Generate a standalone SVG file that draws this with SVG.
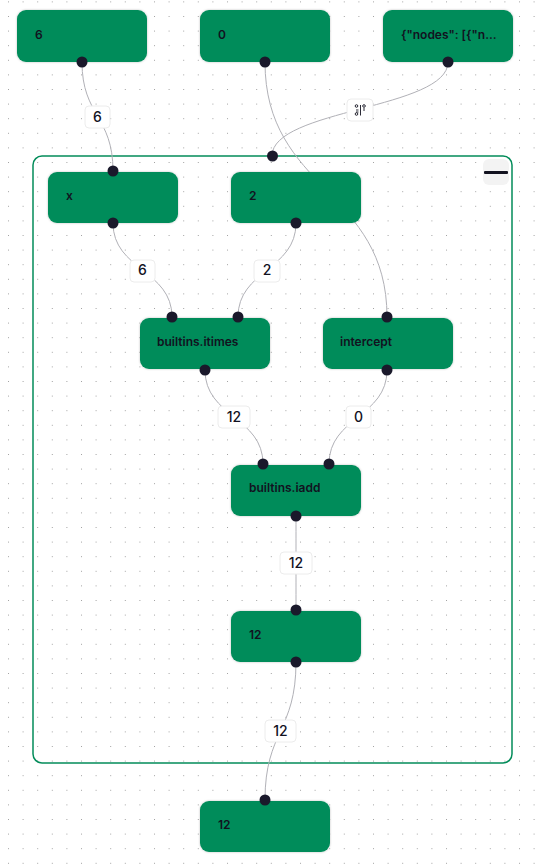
<svg xmlns="http://www.w3.org/2000/svg" width="536" height="867" viewBox="0 0 536 867">
<style>
text{font-family:Inter,"Liberation Sans",sans-serif;fill:#12121f}
.n{fill:#038c5a;filter:url(#s)}
.t{font-size:12px;font-weight:600}
.h{fill:#1a192b}
.e{fill:none;stroke:#b1b1b7;stroke-width:1}
.lb{fill:#fff;stroke:#ececec;stroke-width:1}
.lt{font-size:14px;font-weight:500;text-anchor:middle}
</style>
<defs>
<pattern id="d" x="8" y="1.4" width="14.6" height="14.6" patternUnits="userSpaceOnUse"><circle cx="0.5" cy="0.5" r="0.55" fill="#999"/></pattern>
<filter id="s" x="-5%" y="-10%" width="110%" height="120%"><feDropShadow dx="0" dy="0" stdDeviation="1" flood-color="#000" flood-opacity="0.25"/></filter>
</defs>
<rect width="536" height="867" fill="#fff"/>
<rect width="536" height="867" fill="url(#d)"/>
<g id="group"><rect x="33" y="156" width="479" height="607" rx="9" fill="none" stroke="#038c5a" stroke-width="1.5"/>
<rect x="483" y="159" width="26" height="26" rx="6" fill="#f3f3f3"/><rect x="484" y="171" width="24" height="3" rx="1" fill="#12121f"/></g>
<g id="connectors">
<path class="e" d="M82 62C82 116 113 116 113 171"/>
<path class="e" d="M265 62C265 190 387 190 387 317"/>
<path class="e" d="M448 62C448 109 272 109 272 156"/>
<path class="e" d="M113 223C113 270 172 270 172 317"/>
<path class="e" d="M296 223C296 270 238 270 238 317"/>
<path class="e" d="M205 370C205 417 263 417 263 464"/>
<path class="e" d="M387 370C387 417 329 417 329 464"/>
<path class="e" d="M296 516C296 563 296 563 296 610"/>
<path class="e" d="M296 662C296 731 265 731 265 800"/>
</g>
<circle id="group-handle" class="h" cx="272.500" cy="156" r="5.500"/>
<g id="labels">
<g id="label-6a"><rect class="lb" x="85" y="106" width="25" height="22" rx="4"/><text class="lt" x="97.500" y="122">6</text></g>
<g id="label-icon"><rect class="lb" x="347" y="99" width="26" height="22" rx="4"/>
<g fill="none" stroke="#12121f" stroke-width="0.9"><circle cx="356.500" cy="106" r="1.300"/><circle cx="356.500" cy="114" r="1.300"/><circle cx="364" cy="106" r="1.300"/><path d="M358.500 110H356M356 112H358.500M360.500 105V115.500M364 108V111"/></g></g>
<g id="label-6b"><rect class="lb" x="130" y="260" width="25" height="22" rx="4"/><text class="lt" x="142.500" y="275">6</text></g>
<g id="label-2"><rect class="lb" x="254" y="260" width="26" height="22" rx="4"/><text class="lt" x="267" y="275">2</text></g>
<g id="label-12a"><rect class="lb" x="218" y="406" width="32" height="22" rx="4"/><text class="lt" x="234" y="422">12</text></g>
<g id="label-0"><rect class="lb" x="346" y="406" width="25" height="22" rx="4"/><text class="lt" x="358.500" y="422">0</text></g>
<g id="label-12b"><rect class="lb" x="280" y="552" width="32" height="22" rx="4"/><text class="lt" x="296" y="568">12</text></g>
<g id="label-12c"><rect class="lb" x="265" y="720" width="31" height="22" rx="4"/><text class="lt" x="280.500" y="736">12</text></g>
</g>
<g id="n-6"><rect class="n" x="17" y="10" width="130" height="52" rx="9"/><text class="t" x="35" y="39">6</text><circle class="h" cx="82" cy="62" r="5.500"/></g>
<g id="n-0"><rect class="n" x="200" y="10" width="130" height="52" rx="9"/><text class="t" x="218" y="39">0</text><circle class="h" cx="265" cy="62" r="5.500"/></g>
<g id="n-json"><rect class="n" x="383" y="10" width="130" height="52" rx="9"/><text class="t" x="401" y="39">{"nodes": [{"n...</text><circle class="h" cx="448" cy="62" r="5.500"/></g>
<g id="n-x"><rect class="n" x="48" y="172" width="130" height="51" rx="9"/><text class="t" x="66" y="200">x</text><circle class="h" cx="113" cy="171" r="5.500"/><circle class="h" cx="113" cy="223" r="5.500"/></g>
<g id="n-2"><rect class="n" x="231" y="172" width="130" height="51" rx="9"/><text class="t" x="249" y="200">2</text><circle class="h" cx="296" cy="223" r="5.500"/></g>
<g id="n-itimes"><rect class="n" x="140" y="318" width="130" height="51" rx="9"/><text class="t" x="157" y="346">builtins.itimes</text><circle class="h" cx="172" cy="317" r="5.500"/><circle class="h" cx="238" cy="317" r="5.500"/><circle class="h" cx="205" cy="370" r="5.500"/></g>
<g id="n-intercept"><rect class="n" x="323" y="318" width="130" height="51" rx="9"/><text class="t" x="340" y="346">intercept</text><circle class="h" cx="387" cy="317" r="5.500"/><circle class="h" cx="387" cy="370" r="5.500"/></g>
<g id="n-iadd"><rect class="n" x="231" y="465" width="130" height="51" rx="9"/><text class="t" x="249" y="492">builtins.iadd</text><circle class="h" cx="263" cy="464" r="5.500"/><circle class="h" cx="329" cy="464" r="5.500"/><circle class="h" cx="296" cy="516" r="5.500"/></g>
<g id="n-12a"><rect class="n" x="231" y="611" width="130" height="51" rx="9"/><text class="t" x="249" y="639">12</text><circle class="h" cx="296" cy="610" r="5.500"/><circle class="h" cx="296" cy="662" r="5.500"/></g>
<g id="n-12b"><rect class="n" x="200" y="801" width="130" height="51" rx="9"/><text class="t" x="218" y="829">12</text><circle class="h" cx="265" cy="800" r="5.500"/></g>
</svg>
